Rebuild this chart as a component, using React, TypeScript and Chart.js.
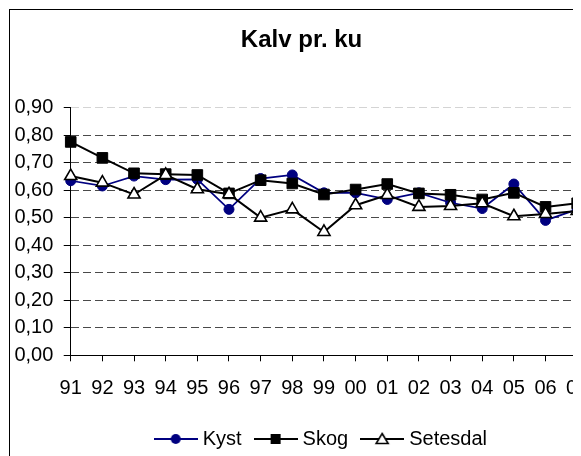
import { useEffect, useRef } from 'react';
import { Chart, registerables } from 'chart.js';

Chart.register(...registerables);

const years = ['91', '92', '93', '94', '95', '96', '97', '98', '99', '00', '01', '02', '03', '04', '05', '06', '07'];
const kyst = [0.634, 0.615, 0.651, 0.638, 0.639, 0.53, 0.642, 0.655, 0.59, 0.59, 0.566, 0.59, 0.554, 0.533, 0.622, 0.49, 0.53];
const skog = [0.775, 0.717, 0.661, 0.658, 0.655, 0.588, 0.636, 0.624, 0.584, 0.602, 0.622, 0.588, 0.583, 0.566, 0.59, 0.539, 0.552];
const setesdal = [0.651, 0.627, 0.584, 0.655, 0.603, 0.585, 0.5, 0.53, 0.448, 0.545, 0.582, 0.539, 0.542, 0.552, 0.505, 0.513, 0.524];

const seriesNames = ['Kyst', 'Skog', 'Setesdal'];
const titleText = 'Kalv pr. ku';
const yMin = 0;
const yMax = 0.9;
const yStep = 0.1;

const FONT = '"Liberation Sans", Arial, Helvetica, sans-serif';
const NAVY = '#000080';

const W = 593.3;
const H = 449;
const TITLE_DX = -7.15;
const LEGEND_DX = 14.15;

function makeIcon(kind: string, color: string): HTMLCanvasElement {
  const c = document.createElement('canvas');
  c.width = 44;
  c.height = 16;
  const ctx = c.getContext('2d')!;
  ctx.strokeStyle = color;
  ctx.lineWidth = 2;
  ctx.beginPath();
  ctx.moveTo(0, 8);
  ctx.lineTo(44, 8);
  ctx.stroke();
  if (kind === 'circle') {
    ctx.fillStyle = color;
    ctx.beginPath();
    ctx.arc(22, 8, 5, 0, Math.PI * 2);
    ctx.fill();
  } else if (kind === 'rect') {
    ctx.fillStyle = color;
    ctx.fillRect(17, 3, 10, 10);
  } else {
    ctx.fillStyle = '#fff';
    ctx.lineWidth = 1.6;
    ctx.beginPath();
    ctx.moveTo(22, 2.5);
    ctx.lineTo(28, 12.5);
    ctx.lineTo(16, 12.5);
    ctx.closePath();
    ctx.fill();
    ctx.stroke();
  }
  return c;
}

const shiftPlugin = {
  id: 'shiftBoxes',
  afterLayout(chart: any) {
    const t = chart.titleBlock;
    if (t) {
      t.left += TITLE_DX;
      t.right += TITLE_DX;
    }
    const l = chart.legend;
    if (l) {
      l.left += LEGEND_DX;
      l.right += LEGEND_DX;
    }
  },
};

export default function App() {
  const ref = useRef<HTMLCanvasElement | null>(null);

  useEffect(() => {
    if (!ref.current) return;
    const icons = [makeIcon('circle', NAVY), makeIcon('rect', '#000'), makeIcon('triangle', '#000')];
    const chart = new Chart(ref.current, {
      type: 'line',
      data: {
        labels: years,
        datasets: [
          {
            label: seriesNames[0],
            data: kyst,
            borderColor: NAVY,
            backgroundColor: NAVY,
            borderWidth: 1.75,
            pointStyle: 'circle',
            pointRadius: 5,
            pointBorderWidth: 1,
            pointBackgroundColor: NAVY,
            pointBorderColor: NAVY,
            tension: 0,
            order: 3,
          },
          {
            label: seriesNames[1],
            data: skog,
            borderColor: '#000',
            backgroundColor: '#000',
            borderWidth: 2,
            pointStyle: 'rect',
            pointRadius: 7.5,
            pointBorderWidth: 1,
            pointBackgroundColor: '#000',
            pointBorderColor: '#000',
            tension: 0,
            order: 2,
          },
          {
            label: seriesNames[2],
            data: setesdal,
            borderColor: '#000',
            backgroundColor: '#fff',
            borderWidth: 2,
            pointStyle: 'triangle',
            pointRadius: 7,
            pointBorderWidth: 1.6,
            pointBackgroundColor: '#fff',
            pointBorderColor: '#000',
            tension: 0,
            order: 1,
          },
        ],
      },
      options: {
        responsive: false,
        animation: false,
        devicePixelRatio: 1,
        layout: { padding: { left: 4.4, right: 0, top: 0, bottom: 0 } },
        plugins: {
          tooltip: { enabled: false },
          title: {
            display: true,
            text: titleText,
            color: '#000',
            font: { family: FONT, size: 24, weight: 'bold' },
            padding: { top: 16, bottom: 52.7 },
          },
          legend: {
            display: true,
            position: 'bottom',
            labels: {
              color: '#000',
              font: { family: FONT, size: 20 },
              usePointStyle: true,
              pointStyleWidth: 34,
              padding: 17,
              sort: (a: any, b: any) => a.datasetIndex - b.datasetIndex,
              generateLabels: (ch: any) => {
                const items = (Chart.defaults.plugins.legend.labels as any).generateLabels(ch);
                return items.map((it: any) => ({ ...it, pointStyle: icons[it.datasetIndex], lineWidth: 0 }));
              },
            },
          },
        },
        scales: {
          x: {
            type: 'category',
            offset: false,
            grid: {
              drawOnChartArea: false,
              drawTicks: true,
              tickLength: 6,
              tickColor: '#000',
              tickWidth: 1,
            },
            border: { display: true, color: '#000', width: 1 },
            ticks: {
              color: '#000',
              font: { family: FONT, size: 20 },
              padding: 14.7,
              maxRotation: 0,
              autoSkip: false,
            },
            afterFit: (scale: any) => {
              scale.height -= 2.7;
            },
          },
          y: {
            min: yMin,
            max: yMax,
            grid: {
              drawOnChartArea: true,
              drawTicks: true,
              tickLength: 7,
              tickColor: '#000',
              tickWidth: 1,
              tickBorderDash: [],
              color: (c: any) => {
                const v = c.tick ? c.tick.value : 0;
                if (Math.abs(v - yMax) < 1e-6) return '#d4d4d4';
                if (Math.abs(v) < 1e-6) return '#000';
                return '#4a4a4a';
              },
              lineWidth: 1,
            },
            border: { display: true, color: '#000', width: 1, dash: [8, 4] as any },
            ticks: {
              stepSize: yStep,
              autoSkip: false,
              color: '#000',
              font: { family: FONT, size: 20 },
              padding: 10.4,
              callback: (v: any) => Number(v).toFixed(2).replace('.', ','),
            },
            afterFit: (scale: any) => {
              scale.width -= 10.4;
            },
          },
        },
      },
      plugins: [shiftPlugin],
    } as any);
    return () => chart.destroy();
  }, []);

  return (
    <div style={{ position: 'relative', width: 573, height: 448, overflow: 'hidden' }}>
      <div
        style={{
          position: 'absolute',
          left: 1,
          top: 1,
          width: 600,
          height: 470,
          border: '1px solid #000',
          boxSizing: 'border-box',
          background: '#fff',
        }}
      >
        <canvas ref={ref} width={W} height={H} style={{ position: 'absolute', left: 0, top: 0, width: W, height: H }} />
      </div>
    </div>
  );
}
